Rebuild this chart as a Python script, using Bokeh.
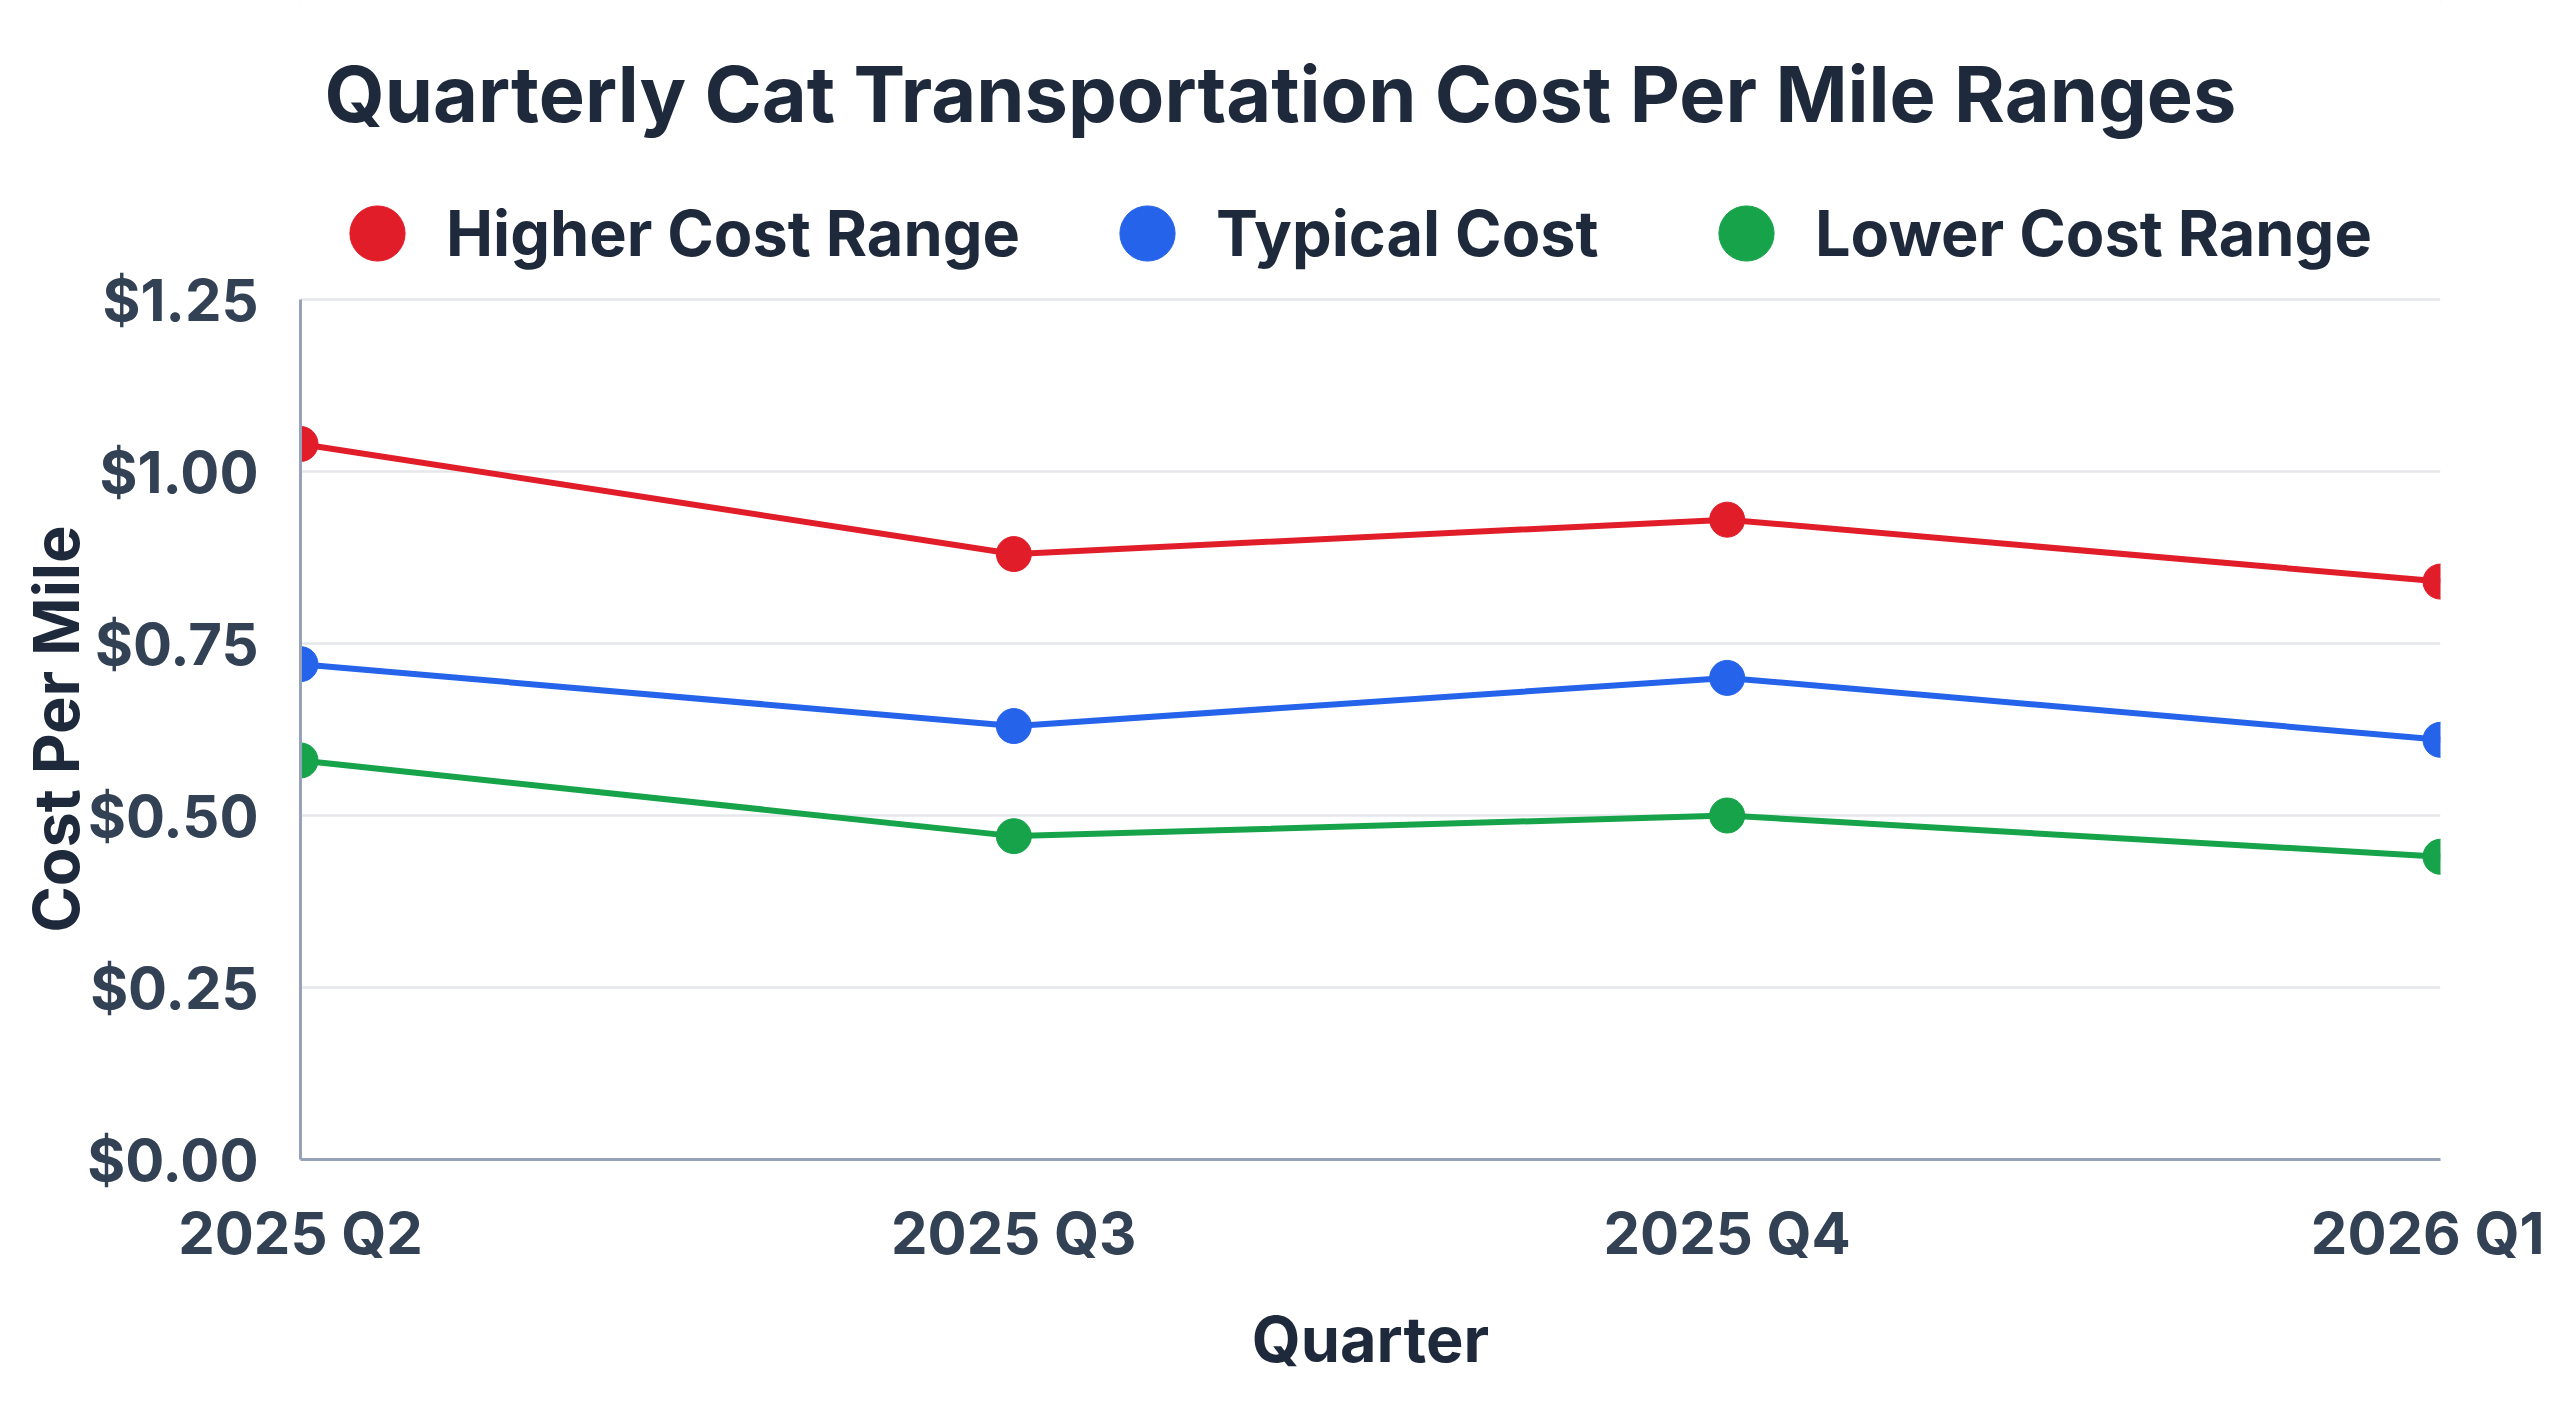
from bokeh.plotting import figure
from bokeh.models import (ColumnDataSource, FixedTicker, Legend, LegendItem, Label,
                          NumeralTickFormatter, Range1d)
from bokeh.embed import file_html
from bokeh.resources import INLINE

# ---- data ----
quarters = ["2025 Q2", "2025 Q3", "2025 Q4", "2026 Q1"]
higher_cost = [1.04, 0.88, 0.93, 0.84]
typical_cost = [0.72, 0.63, 0.70, 0.61]
lower_cost = [0.58, 0.47, 0.50, 0.44]
series_names = ["Higher Cost Range", "Typical Cost", "Lower Cost Range"]
series_colors = ["#e11d2a", "#2563eb", "#16a34a"]
y_ticks = [0.0, 0.25, 0.5, 0.75, 1.0, 1.25]
y_max = 1.25

FONT = "Inter"
TITLE_C = "#1e293b"
TICK_C = "#334155"

W, H = 2544, 1392
PLOT_TOP, PLOT_BOTTOM = 299, 1159          # pixel rows of $1.25 and $0.00
px_per_unit = (PLOT_BOTTOM - PLOT_TOP) / y_max
y_end = y_max + PLOT_TOP / px_per_unit      # frame reaches the canvas top (room for title/legend)

p = figure(width=W, height=H, output_backend="svg", toolbar_location=None,
           x_range=Range1d(0, len(quarters) - 1), y_range=Range1d(0, y_end),
           min_border_left=300, min_border_right=104, min_border_top=0,
           min_border_bottom=H - PLOT_BOTTOM)
p.title = None
p.outline_line_color = None
p.background_fill_color = "white"
p.border_fill_color = "white"
p.styles = {"outline": "3px solid #e5e7eb", "outline-offset": "-4px", "border-radius": "30px"}

# axes
p.xaxis.ticker = FixedTicker(ticks=list(range(len(quarters))))
p.xaxis.major_label_overrides = {i: q for i, q in enumerate(quarters)}
p.yaxis.ticker = FixedTicker(ticks=y_ticks)
p.yaxis.formatter = NumeralTickFormatter(format="$0.00")
p.yaxis.bounds = (0, y_max)
for ax in (p.xaxis, p.yaxis):
    ax.axis_line_color = "#94a3b8"
    ax.axis_line_width = 3
    ax.major_tick_line_color = None
    ax.minor_tick_line_color = None
    ax.major_tick_out = 0
    ax.major_tick_in = 0
    ax.minor_tick_out = 0
    ax.major_label_text_font = FONT
    ax.major_label_text_font_style = "bold"
    ax.major_label_text_font_size = "58px"
    ax.major_label_text_color = TICK_C
    ax.axis_label_text_font = FONT
    ax.axis_label_text_font_style = "bold"
    ax.axis_label_text_font_size = "63px"
    ax.axis_label_text_color = TITLE_C
p.xaxis.axis_label = "Quarter"
# trailing en-spaces move the visible words down so they centre on the $0-$1.25 span
p.yaxis.axis_label = "Cost Per Mile" + "\u2002" * 9 + "\u00a0"
p.xaxis.major_label_standoff = 38
p.yaxis.major_label_standoff = 42
p.xaxis.axis_label_standoff = 30
p.yaxis.axis_label_standoff = -10

p.xgrid.grid_line_color = None
p.ygrid.grid_line_color = "#e5e7eb"
p.ygrid.grid_line_width = 2.5

# series
x_idx = list(range(len(quarters)))
renderers = []
for name, vals, col in zip(series_names, [higher_cost, typical_cost, lower_cost], series_colors):
    src = ColumnDataSource(dict(x=x_idx, y=vals))
    p.line("x", "y", source=src, line_color=col, line_width=6)
    r = p.scatter("x", "y", source=src, size=35, fill_color=col, line_color=col)
    renderers.append(r)

# legend entries (one Legend per entry so each sits where the reference has it)
leg_left = [8, 778, 1377]
leg_bottom = 857
for name, r, lx in zip(series_names, renderers, leg_left):
    leg = Legend(items=[LegendItem(label=name, renderers=[r])],
                 location=(lx, leg_bottom), orientation="horizontal",
                 glyph_width=138, glyph_height=138, label_standoff=0,
                 padding=0, margin=0, border_line_color=None,
                 background_fill_alpha=0,
                 label_text_font=FONT, label_text_font_style="bold",
                 label_text_font_size="63px", label_text_color=TITLE_C,
                 label_height=60)
    p.add_layout(leg, "center")

# title
title = Label(x=980, y=PLOT_BOTTOM - 93, x_units="screen", y_units="screen",
              text="Quarterly Cat Transportation Cost Per Mile Ranges",
              text_font=FONT, text_font_style="bold", text_font_size="77.5px",
              text_color=TITLE_C, text_align="center", text_baseline="middle")
p.add_layout(title)

open("out.html", "w").write(file_html(p, INLINE))
